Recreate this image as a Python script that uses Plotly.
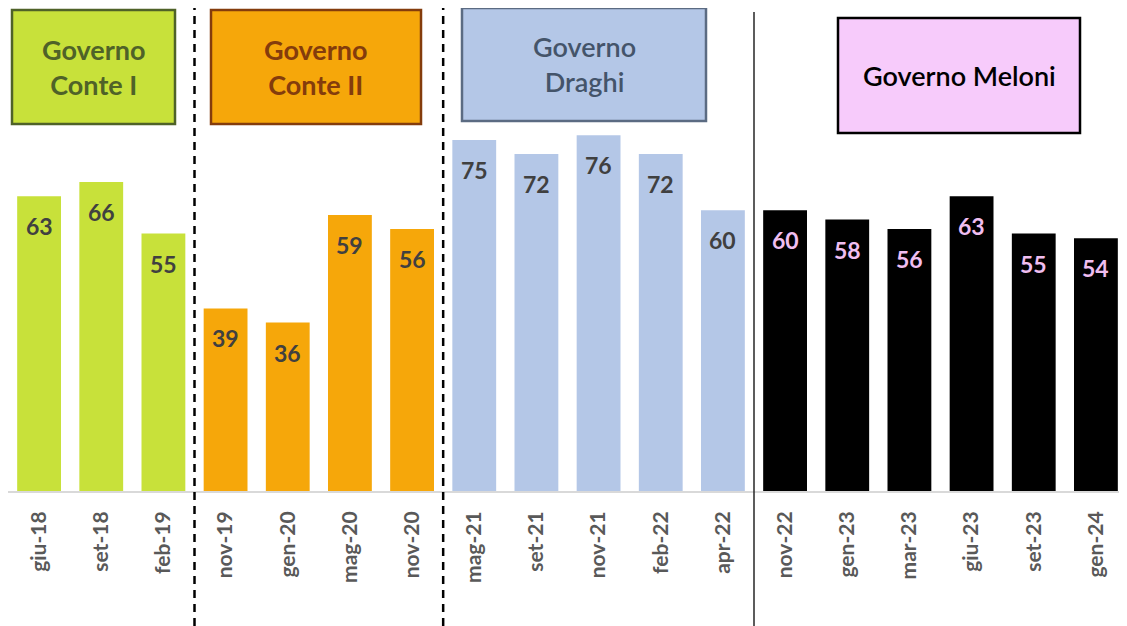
import plotly.graph_objects as go

# --- data -------------------------------------------------------------
months = ["giu-18", "set-18", "feb-19",
          "nov-19", "gen-20", "mag-20", "nov-20",
          "mag-21", "set-21", "nov-21", "feb-22", "apr-22",
          "nov-22", "gen-23", "mar-23", "giu-23", "set-23", "gen-24"]
values = [63, 66, 55,
          39, 36, 59, 56,
          75, 72, 76, 72, 60,
          60, 58, 56, 63, 55, 54]
governments = ["Conte I", "Conte II", "Draghi", "Meloni"]
gov_sizes = [3, 4, 5, 6]

_GREEN = "#C8E13A"
_ORANGE = "#F6A70A"
_BLUE = "#B4C7E7"
_BLACK = "#000000"
_PINK = "#F7CBFB"
_LABEL = "#404040"
_TICK = "#595959"

bar_fill = [_GREEN, _ORANGE, _BLUE, _BLACK]
label_col = [_LABEL, _LABEL, _LABEL, "#F0BEF0"]

colors, lab_colors = [], []
for n, c, lc in zip(gov_sizes, bar_fill, label_col):
    colors += [c] * n
    lab_colors += [lc] * n

# the page body adds an 8px offset, so the figure is a bit smaller
OFF = 8
W, H = 1127 - OFF, 626 - OFF
ML, MB = 0, 135
PW, PH = W - ML, H - MB


def px_x(p):
    # screen pixel -> paper x
    return (p - OFF - ML) / PW


def px_y(p):
    # screen pixel -> paper y
    return (PH - (p - OFF)) / PH


fig = go.Figure(go.Bar(
    x=months, y=values,
    marker=dict(color=colors, line=dict(width=0)),
    hoverinfo="x+y",
    showlegend=False,
))

# value labels inside the top of each bar
for m, v, lc in zip(months, values, lab_colors):
    fig.add_annotation(
        x=m, y=v, text=str(v), showarrow=False,
        yanchor="middle", yshift=-30,
        font=dict(family="Lato", size=23, color=lc, weight="bold"),
    )

# separators between governments
bounds = []
acc = 0
for n in gov_sizes[:-1]:
    acc += n
    bounds.append(acc - 0.5)
for i, b in enumerate(bounds):
    solid = i == len(bounds) - 1
    fig.add_shape(
        type="line", xref="x", yref="paper",
        x0=b, x1=b, y0=px_y(626), y1=px_y(12 if solid else 0),
        line=dict(color="#262626" if solid else "#000000",
                  width=1.5 if solid else 2.5,
                  dash="solid" if solid else "8px,6px"),
        layer="above",
    )

# government title boxes (screen pixels: x0, y0, x1, y1)
boxes = [
    ((12, 10, 175, 124), _GREEN, "#4F6228", "#4F6228", "Governo<br>Conte I", "bold"),
    ((211, 10, 421, 124), _ORANGE, "#843C0C", "#843C0C", "Governo<br>Conte II", "bold"),
    ((462, 8, 706, 121), _BLUE, "#5B6B82", "#44546A", "Governo<br>Draghi", 600),
    ((838, 18, 1080, 133), _PINK, "#000000", "#000000", "Governo Meloni", 600),
]
for (x0, y0, x1, y1), fill, border, tcol, txt, wt in boxes:
    fig.add_shape(
        type="rect", xref="paper", yref="paper",
        x0=px_x(x0), x1=px_x(x1), y0=px_y(y1), y1=px_y(y0),
        fillcolor=fill, line=dict(color=border, width=2.5),
    )
    fig.add_annotation(
        xref="paper", yref="paper",
        x=px_x((x0 + x1) / 2), y=px_y((y0 + y1) / 2),
        text=txt, showarrow=False,
        xanchor="center", yanchor="middle",
        font=dict(family="Lato", size=27, color=tcol, weight=wt),
    )

fig.update_layout(
    width=W, height=H,
    paper_bgcolor="white", plot_bgcolor="white",
    margin=dict(l=ML, r=0, t=0, b=MB),
    bargap=0.295,
    font=dict(family="Lato"),
    xaxis=dict(
        type="category",
        showline=True, linecolor="#D9D9D9", linewidth=2,
        showgrid=False, zeroline=False,
        tickangle=-90, ticks="",
        ticklabelstandoff=10,
        tickfont=dict(family="Lato", size=21, color=_TICK, weight="bold"),
    ),
    yaxis=dict(range=[0, PH / 4.68], visible=False, showgrid=False),
)

fig.write_html("out.html")
